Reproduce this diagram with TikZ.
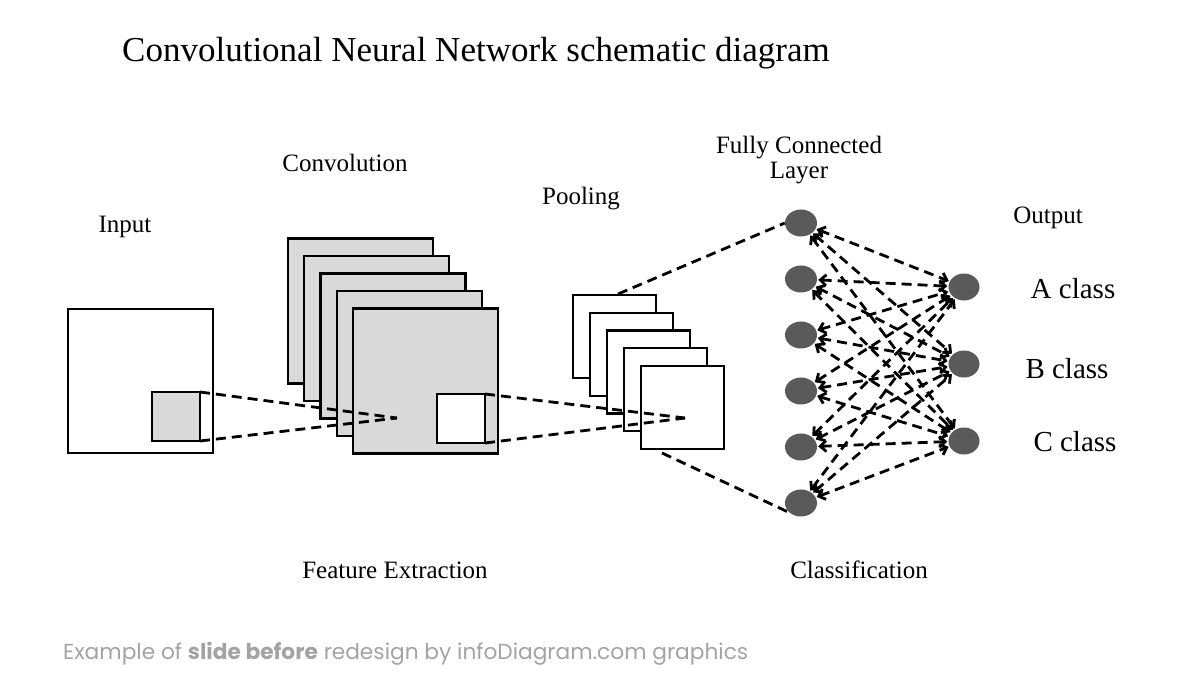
\documentclass[tikz,border=0pt]{standalone}
\usepackage{fontspec}
\setmainfont{Liberation Serif}
\newfontfamily\footfont{Poppins}
\usetikzlibrary{arrows.meta,calc,shapes.geometric}
\definecolor{boxgray}{HTML}{D9D9D9}
\definecolor{nodegray}{HTML}{5A5A5A}
\definecolor{footgray}{HTML}{A3A3A3}
\tikzset{
  sq/.style={draw=black,line width=2.2pt,inner sep=0pt,outer sep=0pt},
  convbox/.style={sq,fill=boxgray,minimum width=145pt,minimum height=145pt},
  poolbox/.style={sq,fill=white,minimum width=83pt,minimum height=83pt},
  neuron/.style={ellipse,fill=nodegray,draw=none,minimum width=32pt,minimum height=27pt,inner sep=0pt},
  dline/.style={line width=2.8pt,dash pattern=on 10pt off 6pt},
  link/.style={dline,{Straight Barb[length=6pt,width=11pt]}-{Straight Barb[length=6pt,width=11pt]},shorten <=1pt,shorten >=1pt},
  lbl/.style={font=\fontsize{25}{27}\selectfont,inner sep=0pt},
  cls/.style={font=\fontsize{29}{31}\selectfont,inner sep=0pt}
}
\begin{document}
\begin{tikzpicture}[x=1pt,y=-1pt]
\useasboundingbox (0,0) rectangle (1200,675);
% title
\node[font=\fontsize{35}{40}\selectfont,anchor=base west,inner sep=0pt] (title) at (122,61) {Convolutional Neural Network schematic diagram};
% input
\node[sq,fill=white,minimum width=145pt,minimum height=144pt] (in) at (140.5,381) {};
\node[sq,fill=boxgray,minimum width=48pt,minimum height=49pt] (ink) at (176,416.5) {};
% conv stack
\foreach \k in {0,...,4}{
  \node[convbox] (c\k) at (360.5+16.25*\k,311+17.5*\k) {};
}
\node[sq,fill=white,minimum width=48pt,minimum height=49pt] (ck) at (461,418.5) {};
% pool stack
\foreach \k in {0,...,4}{
  \node[poolbox] (p\k) at (614.5+17*\k,336.5+17.75*\k) {};
}
% convergence points
\coordinate (cv1) at (397,418);
\coordinate (cv2) at (685,418);
\draw[dline] (ink.north east) -- (cv1);
\draw[dline] (ink.south east) -- (cv1);
\draw[dline] (ck.north east) -- (cv2);
\draw[dline] (ck.south east) -- (cv2);
% FC nodes
\foreach \i/\y in {1/223,2/279,3/335,4/391,5/447,6/503}{
  \node[neuron] (f\i) at (801,\y) {};
}
% output nodes
\foreach \j/\y in {1/287,2/364,3/441}{
  \node[neuron,minimum width=31pt] (o\j) at (964,\y) {};
}
% pool to FC
\coordinate (ptop) at (618,294);
\coordinate (pbot) at (662,453);
\draw[dline] (ptop) -- (f1.west);
\draw[dline] (pbot) -- (f6.south west);
% full connections
\foreach \i in {1,...,6}{
  \foreach \j in {1,2,3}{
    \draw[link] (f\i) -- (o\j);
  }
}
% labels
\node[lbl] (lin) at (125,227) {Input};
\node[lbl] (lconv) at (345,163) {Convolution};
\node[lbl] (lpool) at (581,199) {Pooling};
\node[lbl,align=center,font=\fontsize{25}{25}\selectfont] (lfc) at (799,160) {Fully Connected\\Layer};
\node[lbl] (lout) at (1048,218) {Output};
\node[cls] (la) at (1073,289) {A class};
\node[cls] (lb) at (1067,369) {B class};
\node[cls] (lc) at (1075,442) {C class};
\node[lbl] (lfe) at (395,570) {Feature Extraction};
\node[lbl] (lcl) at (859,570) {Classification};
% footer
\node[anchor=west,inner sep=0pt,text=footgray] (foot) at (63,654) {\resizebox{685pt}{!}{\footfont Example of \textbf{slide before} redesign by infoDiagram.com graphics}};
\end{tikzpicture}
\end{document}
